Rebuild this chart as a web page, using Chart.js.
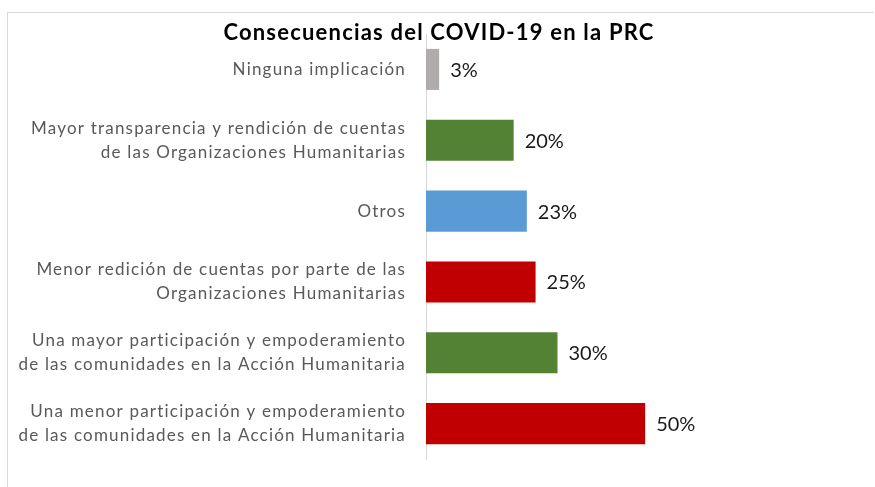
<!DOCTYPE html>
<html>
<head>
<meta charset="utf-8">
<script src="https://cdn.jsdelivr.net/npm/chart.js@4"></script>
<style>
  html, body { margin:0; padding:0; background:#fff; }
  #frame { position:absolute; left:7px; top:12px; width:866px; height:480px; border-top:1px solid #d9d9d9; border-left:1px solid #d9d9d9; }
  #wrap { position:absolute; left:0; top:0; width:875px; height:487px; }
</style>
</head>
<body>
<div id="frame"></div>
<div id="wrap"><canvas id="chart"></canvas></div>
<script>
// Consecuencias del COVID-19 en la PRC
const chartTitle = 'Consecuencias del COVID-19 en la PRC';
const categories = [
  'Ninguna implicación',
  ['Mayor transparencia y rendición de cuentas', 'de las Organizaciones Humanitarias'],
  'Otros',
  ['Menor redición de cuentas por parte de las', 'Organizaciones Humanitarias'],
  ['Una mayor participación y empoderamiento', 'de las comunidades en la Acción Humanitaria'],
  ['Una menor participación y empoderamiento', 'de las comunidades en la Acción Humanitaria']
];
const values = [3, 20, 23, 25, 30, 50];
const barColors = ['#b0acac', '#548235', '#5b9bd5', '#c00000', '#548235', '#c00000'];

const fontFam = 'Lato, "Open Sans", sans-serif';
const spacing = '1.2px';

// the original text is set loosely; widen the letters for measuring and drawing
const looseText = {
  id: 'looseText',
  beforeUpdate(chart) { chart.ctx.letterSpacing = spacing; },
  beforeLayout(chart) { chart.ctx.letterSpacing = spacing; },
  beforeDraw(chart) { chart.ctx.letterSpacing = spacing; }
};

// value labels to the right of each bar
const valueLabels = {
  id: 'valueLabels',
  afterDatasetsDraw(chart) {
    const ctx = chart.ctx;
    const meta = chart.getDatasetMeta(0);
    ctx.save();
    ctx.letterSpacing = '0px';
    ctx.font = '20px ' + fontFam;
    ctx.fillStyle = '#1a1a1a';
    ctx.textAlign = 'left';
    ctx.textBaseline = 'middle';
    meta.data.forEach((bar, i) => {
      ctx.fillText(values[i] + '%', bar.x + 11, bar.y + 1);
    });
    ctx.restore();
  }
};

// title sits over the top of the plot area, like the original
const titleOver = {
  id: 'titleOver',
  afterDraw(chart) {
    const ctx = chart.ctx;
    ctx.save();
    ctx.letterSpacing = spacing;
    ctx.font = 'bold 22px ' + fontFam;
    ctx.fillStyle = '#000';
    ctx.textAlign = 'center';
    ctx.textBaseline = 'middle';
    ctx.fillText(chartTitle, 439, 33);
    ctx.restore();
  }
};

new Chart(document.getElementById('chart'), {
  type: 'bar',
  data: {
    labels: categories,
    datasets: [{ data: values, backgroundColor: barColors, borderWidth: 0, barPercentage: 0.58, categoryPercentage: 1 }]
  },
  options: {
    indexAxis: 'y',
    responsive: true,
    maintainAspectRatio: false,
    animation: false,
    layout: { padding: { left: 0, right: 186, top: 34, bottom: 28 } },
    plugins: { legend: { display: false }, tooltip: { enabled: false }, title: { display: false } },
    scales: {
      x: { display: false, min: 0, max: 60 },
      y: {
        grid: { display: false, drawTicks: false },
        border: { display: true, color: '#d9d9d9', width: 1 },
        ticks: { color: '#595959', font: { family: fontFam, size: 17, lineHeight: 1.42 }, padding: 20, autoSkip: false },
        afterFit(scale) {
          scale.width = 426;
          scale.paddingTop = 0;
          scale.paddingBottom = 0;
        }
      }
    }
  },
  plugins: [looseText, valueLabels, titleOver]
});
</script>
</body>
</html>
